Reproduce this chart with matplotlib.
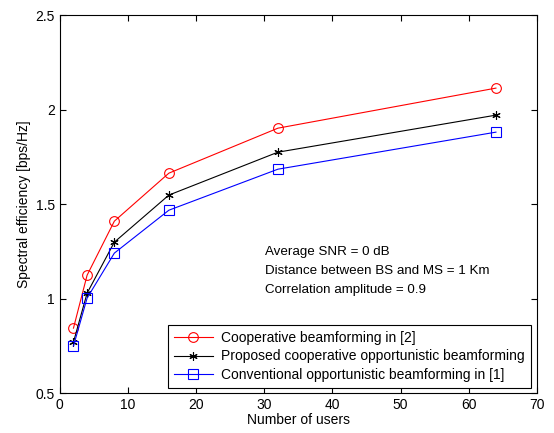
import matplotlib
matplotlib.use("Agg")
import matplotlib.pyplot as plt

plt.rcParams['font.family'] = ['Liberation Sans', 'DejaVu Sans']

# number of users
users = [2, 4, 8, 16, 32, 64]

# spectral efficiency [bps/Hz]
coop_bf = [0.844, 1.124, 1.41, 1.664, 1.902, 2.114]
proposed = [0.77, 1.029, 1.299, 1.548, 1.775, 1.971]
conventional = [0.749, 1.003, 1.241, 1.468, 1.685, 1.881]

labels = ["Cooperative beamforming in [2]",
          "Proposed cooperative opportunistic beamforming",
          "Conventional opportunistic beamforming in [1]"]

notes = ["Average SNR = 0 dB",
         "Distance between BS and MS = 1 Km",
         "Correlation amplitude = 0.9"]

fig = plt.figure(figsize=(5.54, 4.33), dpi=100)
ax = fig.add_axes([0.108, 0.092, 0.861, 0.873])

ax.plot(users, coop_bf, color='red', lw=0.8, marker='o', ms=7,
        mfc='none', mec='red', mew=0.8, label=labels[0])
ax.plot(users, proposed, color='black', lw=0.8, marker=(6, 2, 0), ms=6,
        mew=0.8, label=labels[1])
ax.plot(users, conventional, color='blue', lw=0.8, marker='s', ms=7.5,
        mfc='none', mec='blue', mew=0.8, label=labels[2])

ax.set_xlim(0, 70)
ax.set_ylim(0.5, 2.5)
ax.set_xticks(range(0, 71, 10))
ax.set_yticks([0.5, 1, 1.5, 2, 2.5])
ax.set_yticklabels(["0.5", "1", "1.5", "2", "2.5"])
ax.tick_params(direction='in', top=True, right=True, labelsize=10, length=4)
ax.set_xlabel("Number of users", fontsize=10, labelpad=1)
ax.set_ylabel("Spectral efficiency [bps/Hz]", fontsize=10, labelpad=3)

for i, t in enumerate(notes):
    ax.text(30.1, 1.246 - i * 0.1, t, fontsize=9.6, va='center')

leg = ax.legend(loc='lower right', bbox_to_anchor=(0.988, 0.014), fontsize=10,
                fancybox=False, framealpha=1, edgecolor='black',
                borderpad=0.45, labelspacing=0.3, handlelength=2.8,
                handletextpad=0.6, borderaxespad=0)
leg.get_frame().set_linewidth(0.8)

fig.savefig("out.png", dpi=100)
